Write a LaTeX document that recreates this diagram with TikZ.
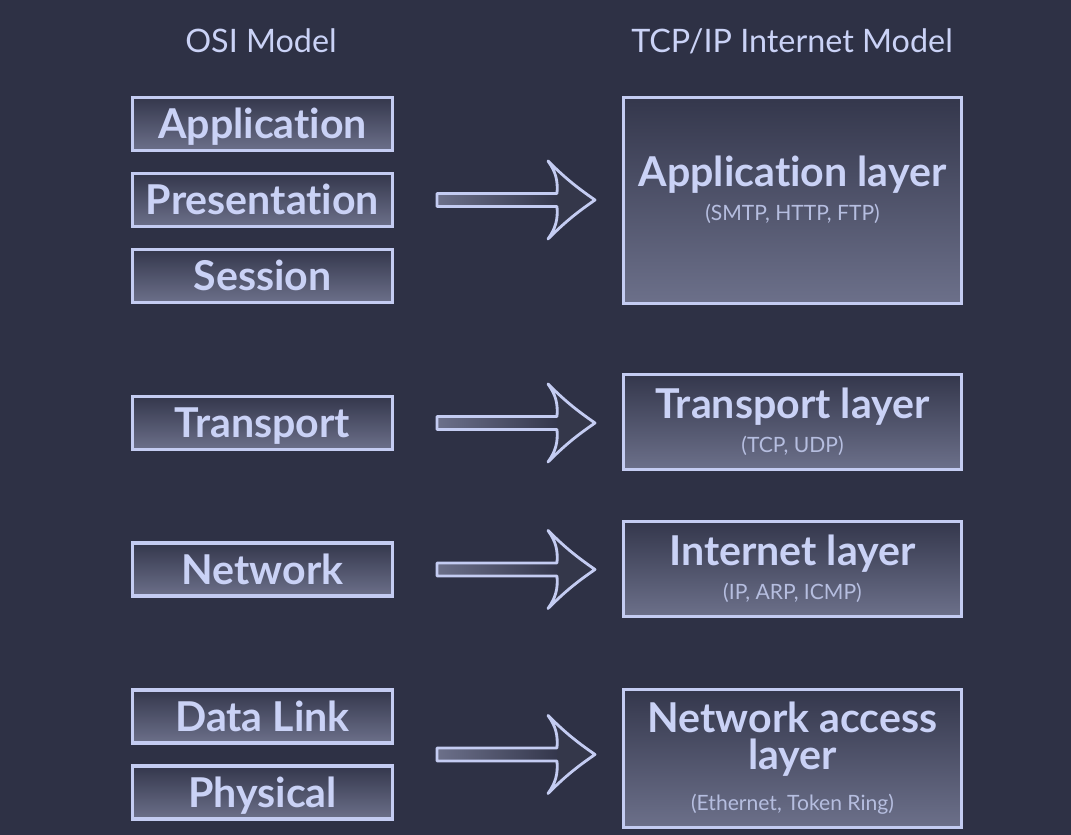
\documentclass[tikz,border=0pt]{standalone}
\usepackage{fontspec}
\setmainfont{Lato}[Ligatures=NoCommon]
\usetikzlibrary{positioning, calc}
\definecolor{bg}{RGB}{46,49,69}
\definecolor{rim}{RGB}{196,204,242}
\definecolor{boxtop}{RGB}{52,55,76}
\definecolor{boxbot}{RGB}{108,112,138}
\definecolor{headfill}{RGB}{52,55,74}
\definecolor{ink}{RGB}{202,210,246}
\definecolor{subink}{RGB}{182,190,224}
\newcommand{\subtxt}[1]{{\fontsize{6}{7}\mdseries\selectfont\color{subink}#1}}
\tikzset{
  osibox/.style={draw=rim, line width=0.9pt, top color=boxtop, bottom color=boxbot,
    minimum width=2.60cm, minimum height=0.53cm, inner sep=0pt, outer sep=0pt, text=ink,
    text height=8.4pt, text depth=0pt, font=\fontsize{11.7}{9.7}\bfseries\selectfont},
  tcpbox/.style={osibox, minimum width=3.38cm, text height=, text depth=, align=center},
  tcptxt/.style={text=ink, align=center, inner sep=0pt, font=\fontsize{11.7}{9.7}\bfseries\selectfont},
  title/.style={text=ink, font=\fontsize{9.2}{11}\selectfont},
  pics/blockarrow/.style={code={
    \fill[headfill] (1.2,-0.065) to[bend left=20] (1.11,-0.39) to[bend left=5] (1.58,0)
      to[bend left=5] (1.11,0.39) to[bend left=20] (1.2,0.065) -- cycle;
    \shade[left color=boxbot, right color=boxtop] (0,-0.065) rectangle (1.2,0.065);
    \draw[rim, line width=0.8pt, line join=round] (0,-0.065) -- (1.2,-0.065) to[bend left=20] (1.11,-0.39)
      to[bend left=5] (1.58,0) to[bend left=5] (1.11,0.39) to[bend left=20] (1.2,0.065)
      -- (0,0.065) -- cycle;
  }}
}

\begin{document}
\begin{tikzpicture}
  \fill[bg] (0,0) rectangle (10.71,8.35);
  % titles
  \node[title] (osiT) at (2.61,7.94) {OSI Model};
  \node[title] (tcpT) at (7.92,7.94) {TCP/IP Internet Model};
  % OSI layers
  \node[osibox] (osiApp) at (2.625,7.11) {Application};
  \node[osibox, below=0.23cm of osiApp] (osiPre) {Presentation};
  \node[osibox, below=0.23cm of osiPre] (osiSes) {Session};
  \node[osibox] (osiTra) at (2.625,4.12) {Transport};
  \node[osibox] (osiNet) at (2.625,2.655) {Network};
  \node[osibox] (osiDat) at (2.625,1.185) {Data Link};
  \node[osibox, below=0.23cm of osiDat] (osiPhy) {Physical};
  % TCP/IP layers
  \node[tcpbox, minimum height=2.06cm] (tcpApp) at (7.925,6.345) {};
  \node[tcptxt] (tcpAppTxt) at ([yshift=0.11cm]tcpApp.center) {Application layer\\\subtxt{(SMTP, HTTP, FTP)}};
  \node[tcpbox, minimum height=0.95cm] (tcpTra) at (7.925,4.13) {Transport layer\\\subtxt{(TCP, UDP)}};
  \node[tcpbox, minimum height=0.95cm] (tcpInt) at (7.925,2.66) {Internet layer\\\subtxt{(IP, ARP, ICMP)}};
  \node[tcpbox, minimum height=1.38cm] (tcpNet) at (7.925,0.765) {Network access\\[0.6pt]layer\\[2.2pt]\subtxt{(Ethernet, Token Ring)}};
  % arrows
  \pic at ($(osiApp.north east)!0.5!(osiSes.south east)+(0.445,0)$) {blockarrow};
  \pic at ($(osiTra.east)+(0.445,0)$) {blockarrow};
  \pic at ($(osiNet.east)+(0.445,0)$) {blockarrow};
  \pic at ($(osiDat.north east)!0.5!(osiPhy.south east)+(0.445,0)$) {blockarrow};
\end{tikzpicture}
\end{document}
